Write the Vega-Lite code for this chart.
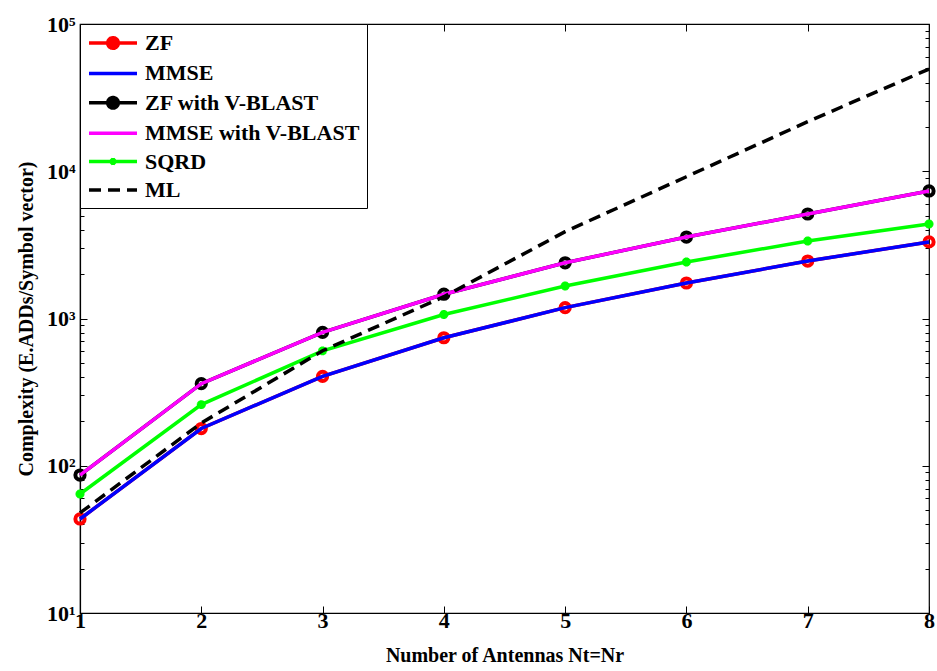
{
  "$schema": "https://vega.github.io/schema/vega-lite/v6.json",
  "width": 849,
  "height": 589,
  "autosize": {"type": "none"},
  "padding": {"left": 80, "top": 24, "right": 8, "bottom": 58},
  "background": "white",
  "config": {
    "view": {"stroke": "black", "strokeWidth": 1.2},
    "font": "Liberation Serif",
    "axis": {
      "labelFont": "Liberation Serif", "labelFontWeight": "bold", "labelFontSize": 22, "labelColor": "black",
      "titleFont": "Liberation Serif", "titleFontWeight": "bold", "titleFontSize": 20, "titleColor": "black",
      "domainColor": "black", "domainWidth": 1.2, "tickColor": "black", "tickWidth": 1, "grid": false
    },
    "legend": {
      "orient": "top-left", "offset": 0, "padding": 7, "strokeColor": "black", "fillColor": "white",
      "labelFont": "Liberation Serif", "labelFontWeight": "bold", "labelFontSize": 22, "labelColor": "black",
      "labelLimit": 400, "labelOffset": 34, "rowPadding": 5.4, "symbolSize": 400, "symbolStrokeWidth": 3.5
    }
  },
  "data": {
    "values": [
      {"n": 1, "series": "ZF", "value": 43.5}, {"n": 2, "series": "ZF", "value": 179}, {"n": 3, "series": "ZF", "value": 405}, {"n": 4, "series": "ZF", "value": 740}, {"n": 5, "series": "ZF", "value": 1185}, {"n": 6, "series": "ZF", "value": 1742}, {"n": 7, "series": "ZF", "value": 2456}, {"n": 8, "series": "ZF", "value": 3311},
      {"n": 1, "series": "MMSE", "value": 43.5}, {"n": 2, "series": "MMSE", "value": 179}, {"n": 3, "series": "MMSE", "value": 405}, {"n": 4, "series": "MMSE", "value": 740}, {"n": 5, "series": "MMSE", "value": 1185}, {"n": 6, "series": "MMSE", "value": 1742}, {"n": 7, "series": "MMSE", "value": 2456}, {"n": 8, "series": "MMSE", "value": 3311},
      {"n": 1, "series": "ZF with V-BLAST", "value": 86.5}, {"n": 2, "series": "ZF with V-BLAST", "value": 361}, {"n": 3, "series": "ZF with V-BLAST", "value": 805}, {"n": 4, "series": "ZF with V-BLAST", "value": 1462}, {"n": 5, "series": "ZF with V-BLAST", "value": 2390}, {"n": 6, "series": "ZF with V-BLAST", "value": 3575}, {"n": 7, "series": "ZF with V-BLAST", "value": 5126}, {"n": 8, "series": "ZF with V-BLAST", "value": 7345},
      {"n": 1, "series": "MMSE with V-BLAST", "value": 86.5}, {"n": 2, "series": "MMSE with V-BLAST", "value": 361}, {"n": 3, "series": "MMSE with V-BLAST", "value": 805}, {"n": 4, "series": "MMSE with V-BLAST", "value": 1462}, {"n": 5, "series": "MMSE with V-BLAST", "value": 2390}, {"n": 6, "series": "MMSE with V-BLAST", "value": 3575}, {"n": 7, "series": "MMSE with V-BLAST", "value": 5126}, {"n": 8, "series": "MMSE with V-BLAST", "value": 7345},
      {"n": 1, "series": "SQRD", "value": 64.3}, {"n": 2, "series": "SQRD", "value": 260}, {"n": 3, "series": "SQRD", "value": 603}, {"n": 4, "series": "SQRD", "value": 1064}, {"n": 5, "series": "SQRD", "value": 1663}, {"n": 6, "series": "SQRD", "value": 2420}, {"n": 7, "series": "SQRD", "value": 3357}, {"n": 8, "series": "SQRD", "value": 4385},
      {"n": 1, "series": "ML", "value": 47.8}, {"n": 2, "series": "ML", "value": 195}, {"n": 3, "series": "ML", "value": 604}, {"n": 4, "series": "ML", "value": 1406}, {"n": 5, "series": "ML", "value": 3888}, {"n": 6, "series": "ML", "value": 9180}, {"n": 7, "series": "ML", "value": 21720}, {"n": 8, "series": "ML", "value": 49440}
    ]
  },
  "layer": [
    {
      "transform": [{"filter": "datum.series === 'ZF'"}],
      "mark": {"type": "line", "strokeWidth": 3.5},
      "encoding": {
        "x": {"field": "n", "type": "quantitative", "scale": {"domain": [1, 8], "nice": false, "zero": false},
          "axis": {"orient": "bottom", "values": [1, 2, 3, 4, 5, 6, 7, 8], "format": "d", "tickSize": -7, "labelPadding": 4, "labelFlush": false,
            "labelFont": "Liberation Serif", "labelFontWeight": "bold", "labelFontSize": 22,
            "title": "Number of Antennas Nt=Nr", "titleFont": "Liberation Serif", "titlePadding": 14}},
        "y": {"field": "value", "type": "quantitative", "scale": {"type": "log", "domain": [10, 100000], "nice": false},
          "axis": {"orient": "left", "values": [10, 20, 30, 40, 50, 60, 70, 80, 90, 100, 200, 300, 400, 500, 600, 700, 800, 900, 1000, 2000, 3000, 4000, 5000, 6000, 7000, 8000, 9000, 10000, 20000, 30000, 40000, 50000, 60000, 70000, 80000, 90000, 100000],
            "labelExpr": "datum.value === 10 ? '10¹' : datum.value === 100 ? '10²' : datum.value === 1000 ? '10³' : datum.value === 10000 ? '10⁴' : datum.value === 100000 ? '10⁵' : ''",
            "tickSize": {"condition": {"test": "indexof([10,100,1000,10000,100000], datum.value) >= 0", "value": -7}, "value": -4},
            "labelFont": "Liberation Serif", "labelFontWeight": "bold", "labelFontSize": 22,
            "labelOverlap": false, "labelFlush": false, "labelPadding": 12, "title": "Complexity (E.ADDs/Symbol vector)", "titleFont": "Liberation Serif", "titlePadding": 10}},
        "color": {"field": "series", "type": "nominal",
          "scale": {"domain": ["ZF", "MMSE", "ZF with V-BLAST", "MMSE with V-BLAST", "SQRD", "ML"], "range": ["#ff0000", "#0000ff", "#000000", "#ff00ff", "#00ff00", "#000000"]},
          "legend": {"title": null, "labelFont": "Liberation Serif", "labelFontWeight": "bold", "labelFontSize": 22,
            "encode": {"symbols": {"update": {
              "shape": {"signal": "(datum.value === 'ZF' || datum.value === 'ZF with V-BLAST') ? 'M-1,0H3.8M0.87,0A0.53,0.53 0 1,1 1.93,0A0.53,0.53 0 1,1 0.87,0Z' : datum.value === 'SQRD' ? 'M-1,0H3.8M1.05,0H1.75M1.4,-0.35V0.35M1.15,-0.25L1.65,0.25M1.15,0.25L1.65,-0.25' : 'M-1,0H3.8'"},
              "fill": {"signal": "datum.value === 'ZF' ? '#ff0000' : datum.value === 'ZF with V-BLAST' ? '#000000' : 'transparent'"},
              "strokeDash": {"signal": "datum.value === 'ML' ? [12, 7] : [1, 0]"}
            }}}}}
      }
    },
    {
      "transform": [{"filter": "datum.series === 'ZF'"}],
      "mark": {"type": "point", "shape": "circle", "filled": false, "size": 85, "strokeWidth": 4, "color": "#ff0000", "opacity": 1},
      "encoding": {
        "x": {"field": "n", "type": "quantitative", "axis": null},
        "y": {"field": "value", "type": "quantitative", "axis": null}
      }
    },
    {
      "transform": [{"filter": "datum.series === 'MMSE'"}],
      "mark": {"type": "line", "strokeWidth": 3.5, "color": "#0000ff"},
      "encoding": {
        "x": {"field": "n", "type": "quantitative", "axis": {"orient": "top", "values": [1, 2, 3, 4, 5, 6, 7, 8], "tickSize": -7, "labels": false, "domain": false, "title": null}},
        "y": {"field": "value", "type": "quantitative",
          "axis": {"orient": "right", "values": [10, 20, 30, 40, 50, 60, 70, 80, 90, 100, 200, 300, 400, 500, 600, 700, 800, 900, 1000, 2000, 3000, 4000, 5000, 6000, 7000, 8000, 9000, 10000, 20000, 30000, 40000, 50000, 60000, 70000, 80000, 90000, 100000],
            "tickSize": {"condition": {"test": "indexof([10,100,1000,10000,100000], datum.value) >= 0", "value": -7}, "value": -4},
            "labels": false, "domain": false, "title": null}}
      }
    },
    {
      "transform": [{"filter": "datum.series === 'ZF with V-BLAST'"}],
      "mark": {"type": "line", "strokeWidth": 3.5, "color": "#000000"},
      "encoding": {
        "x": {"field": "n", "type": "quantitative", "axis": null},
        "y": {"field": "value", "type": "quantitative", "axis": null}
      }
    },
    {
      "transform": [{"filter": "datum.series === 'ZF with V-BLAST'"}],
      "mark": {"type": "point", "shape": "circle", "filled": false, "size": 85, "strokeWidth": 4, "color": "#000000", "opacity": 1},
      "encoding": {
        "x": {"field": "n", "type": "quantitative", "axis": null},
        "y": {"field": "value", "type": "quantitative", "axis": null}
      }
    },
    {
      "transform": [{"filter": "datum.series === 'MMSE with V-BLAST'"}],
      "mark": {"type": "line", "strokeWidth": 3.5, "color": "#ff00ff"},
      "encoding": {
        "x": {"field": "n", "type": "quantitative", "axis": null},
        "y": {"field": "value", "type": "quantitative", "axis": null}
      }
    },
    {
      "transform": [{"filter": "datum.series === 'SQRD'"}],
      "mark": {"type": "line", "strokeWidth": 3.5, "color": "#00ff00"},
      "encoding": {
        "x": {"field": "n", "type": "quantitative", "axis": null},
        "y": {"field": "value", "type": "quantitative", "axis": null}
      }
    },
    {
      "transform": [{"filter": "datum.series === 'SQRD'"}],
      "mark": {"type": "point", "shape": "M-1,0H1M0,-1V1M-0.7,-0.7L0.7,0.7M-0.7,0.7L0.7,-0.7", "filled": false, "size": 80, "strokeWidth": 3, "color": "#00ff00", "opacity": 1},
      "encoding": {
        "x": {"field": "n", "type": "quantitative", "axis": null},
        "y": {"field": "value", "type": "quantitative", "axis": null}
      }
    },
    {
      "transform": [{"filter": "datum.series === 'ML'"}],
      "mark": {"type": "line", "strokeWidth": 3.5, "color": "#000000", "strokeDash": [12, 7]},
      "encoding": {
        "x": {"field": "n", "type": "quantitative", "axis": null},
        "y": {"field": "value", "type": "quantitative", "axis": null}
      }
    }
  ],
  "resolve": {"axis": {"x": "independent", "y": "independent"}}
}
